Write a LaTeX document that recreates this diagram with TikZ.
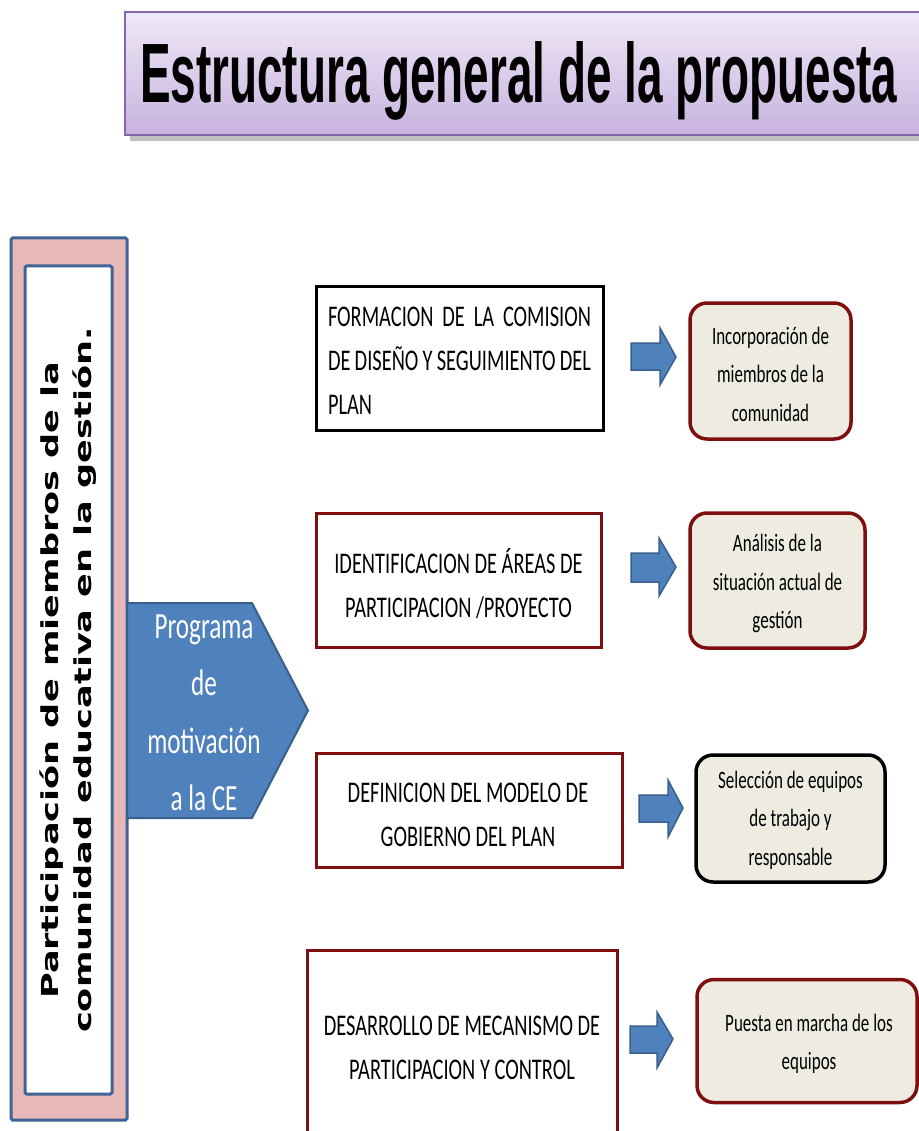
\documentclass[tikz,border=0pt]{standalone}
\usepackage{fontspec}
\usepackage{graphicx}
\newfontfamily\calf[FakeStretch=0.68]{Carlito}
\newfontfamily\rotf[FakeStretch=1.5]{DejaVu Sans}
\newfontfamily\titf{Liberation Sans}
\definecolor{pinkfill}{HTML}{E6B9B8}
\definecolor{frameblue}{HTML}{3F6395}
\definecolor{pentfill}{HTML}{4F81BD}
\definecolor{pentdraw}{HTML}{3A5F8C}
\definecolor{titletop}{HTML}{F0E9F7}
\definecolor{titlebot}{HTML}{C7B2DF}
\definecolor{titledraw}{HTML}{8468AE}
\definecolor{dred}{HTML}{7F0F0F}
\definecolor{notefill}{HTML}{EEECE1}
\begin{document}
\begin{tikzpicture}[x=1pt,y=-1pt,
  stepbox/.style={draw=dred, line width=3pt, fill=white, inner sep=0},
  notebox/.style={draw=dred, line width=3.5pt, fill=notefill, rounded corners=17pt, inner sep=0},
  boxtext/.style={font=\calf\fontsize{30}{44}\selectfont, align=center, inner sep=0},
  notetext/.style={font=\calf\fontsize{25}{38.5}\selectfont, align=center, inner sep=0},
  blockarrow/.style={fill=pentfill, draw=pentdraw, line width=1.5pt, line join=miter},
  frame/.style={draw=frameblue, line width=3pt, rounded corners=1.5pt}]
\useasboundingbox (0,0) rectangle (918,1131);
\fill[white] (0,0) rectangle (918,1131);

% title
\fill[black!45, opacity=0.55] (130,18) rectangle (940,141);
\node[draw=titledraw, line width=1.5pt, top color=titletop, bottom color=titlebot,
      minimum width=810pt, minimum height=123pt, inner sep=0] (titlebox) at (530,73.5) {};
\node[anchor=base west, inner sep=0] (titletext) at (140,103)
  {\resizebox{757pt}{61pt}{\titf\bfseries Estructura general de la propuesta}};

% left frame
\node[frame, fill=pinkfill, minimum width=116pt, minimum height=882pt, inner sep=0] (outer) at (69,679) {};
\node[frame, fill=white, minimum width=87pt, minimum height=828pt, inner sep=0] (inner) at (68.5,680) {};
\node[rotate=90, font=\rotf\bfseries\fontsize{23.4}{33}\selectfont, align=center, inner sep=0] (side) at (68,680)
  {Participación de miembros de la\\comunidad educativa en la gestión.};

% pentagon
\draw[fill=pentfill, draw=pentdraw, line width=2pt, line join=miter]
  (127,603) -- (252,603) -- (308,710.5) -- (252,818) -- (127,818) -- cycle;
\node[font=\calf\fontsize{37}{57.5}\selectfont, text=white, align=center, inner sep=0] (prog) at (204,713)
  {Programa\\de\\motivación\\a la CE};

% step boxes
\node[stepbox, draw=black, minimum width=287pt, minimum height=143pt] (b1) at (459.5,358.5) {};
\node[boxtext, text width=263pt, align=left] (t1) at (459.5,361)
  {FORMACION\hfill DE\hfill LA\hfill COMISION\\DE\hfill DISEÑO\hfill Y\hfill SEGUIMIENTO\hfill DEL\\PLAN};
\node[stepbox, minimum width=285pt, minimum height=134pt] (b2) at (458.5,580) {};
\node[boxtext] (t2) at (458.5,584) {IDENTIFICACION DE ÁREAS DE\\PARTICIPACION /PROYECTO};
\node[stepbox, minimum width=306pt, minimum height=114pt] (b3) at (469,810) {};
\node[boxtext] (t3) at (468,815) {DEFINICION DEL MODELO DE\\GOBIERNO DEL PLAN};
\node[stepbox, minimum width=310pt, minimum height=200pt] (b4) at (462,1050) {};
\node[boxtext] (t4) at (462,1048) {DESARROLLO DE MECANISMO DE\\PARTICIPACION Y CONTROL};

% block arrows
\draw[blockarrow] (631,343) -- (660,343) -- (660,328) -- (676,357) -- (660,385) -- (660,370) -- (631,370) -- cycle;
\draw[blockarrow] (631,553) -- (659,553) -- (659,538) -- (676,567) -- (659,596) -- (659,582) -- (631,582) -- cycle;
\draw[blockarrow] (639,795) -- (668,795) -- (668,780) -- (683,808) -- (668,837) -- (668,822) -- (639,822) -- cycle;
\draw[blockarrow] (630,1026) -- (657,1026) -- (657,1012) -- (673,1039) -- (657,1068) -- (657,1053) -- (630,1053) -- cycle;

% note boxes
\node[notebox, minimum width=161pt, minimum height=136pt] (r1) at (770.5,371) {};
\node[notetext] (n1) at (770.5,374) {Incorporación de\\miembros de la\\comunidad};
\node[notebox, minimum width=175pt, minimum height=135pt] (r2) at (777.5,580.5) {};
\node[notetext] (n2) at (777.5,583.5) {Análisis de la\\situación actual de\\gestión};
\node[notebox, draw=black, minimum width=189pt, minimum height=127pt] (r3) at (790.5,818.5) {};
\node[notetext] (n3) at (790.5,820) {Selección de equipos\\de trabajo y\\responsable};
\node[notebox, minimum width=220pt, minimum height=123pt] (r4) at (807,1041) {};
\node[notetext] (n4) at (809,1044) {Puesta en marcha de los\\equipos};
\end{tikzpicture}
\end{document}
